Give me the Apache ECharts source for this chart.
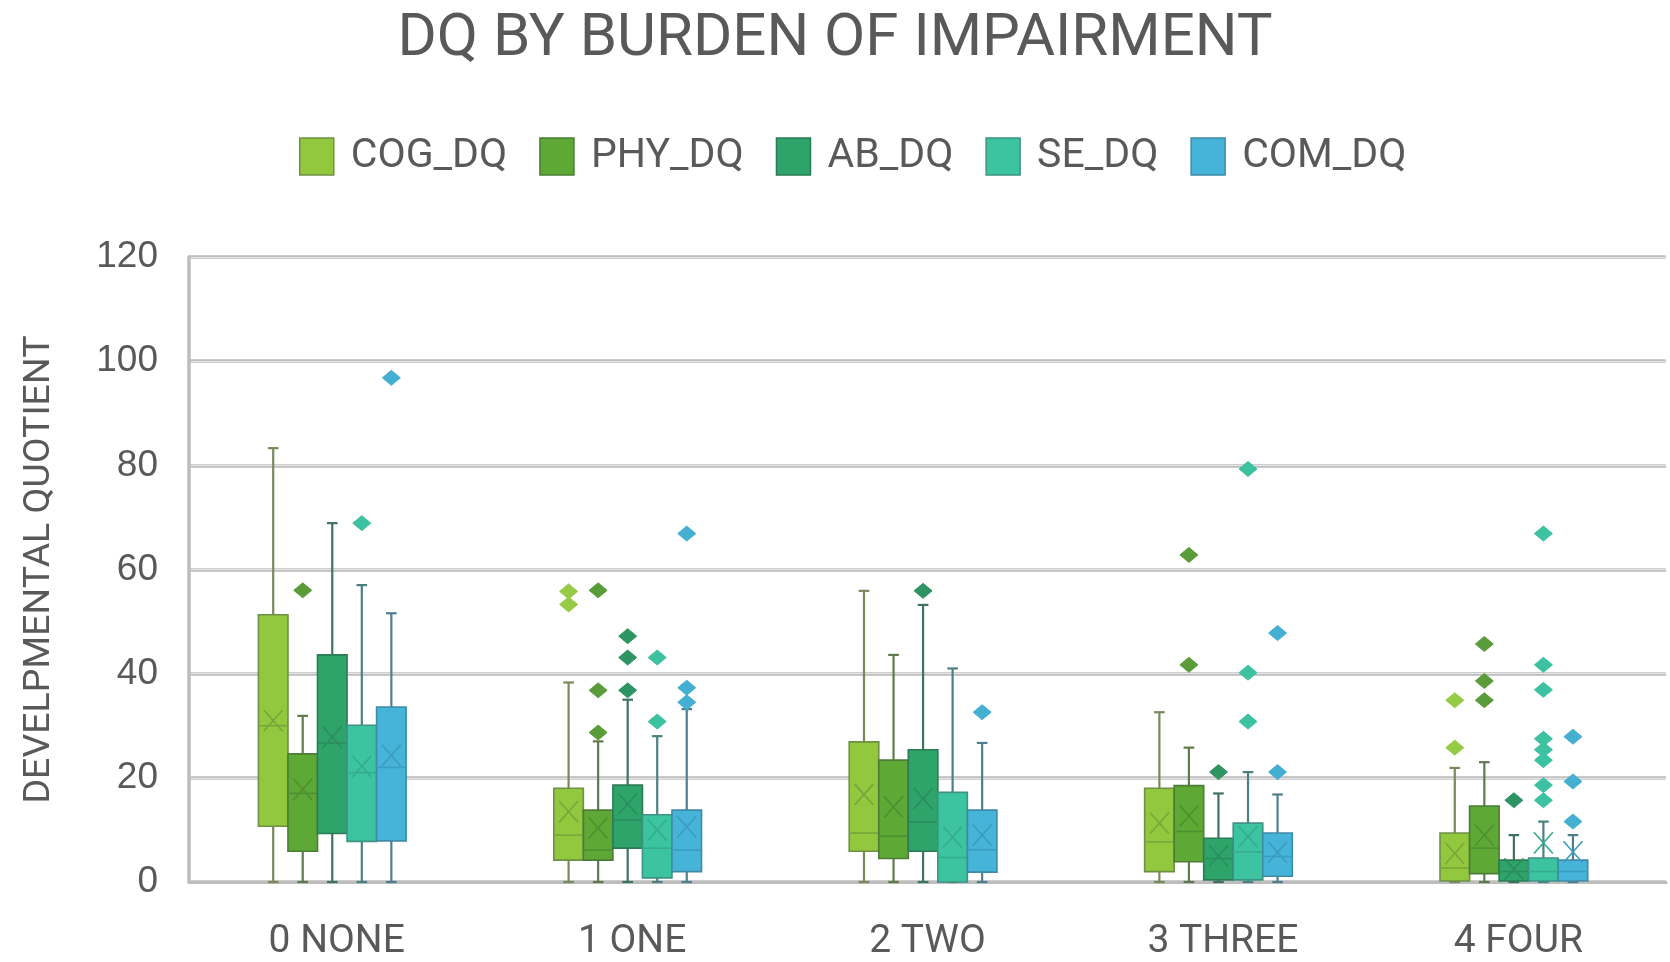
<!DOCTYPE html>
<html>
<head>
<meta charset="utf-8">
<script src="https://cdn.jsdelivr.net/npm/echarts/dist/echarts.min.js"></script>
<style>
html,body{margin:0;padding:0;background:#ffffff;}
#chart{width:1670px;height:962px;}
</style>
</head>
<body>
<div id="chart"></div>
<script>
// ---------------- DATA ----------------
const categories = ['0 NONE', '1 ONE', '2 TWO', '3 THREE', '4 FOUR'];
const seriesNames = ['COG_DQ', 'PHY_DQ', 'AB_DQ', 'SE_DQ', 'COM_DQ'];
const yTicks = [0, 20, 40, 60, 80, 100, 120];

// five-number summaries per category: [min, Q1, median, Q3, max]
const COG_box = [[0, 10.7, 30.0, 51.3, 83.3], [0, 4.2, 9.0, 18.0, 38.3], [0, 5.9, 9.4, 26.9, 55.9], [0, 2.0, 7.7, 18.0, 32.6], [0, 0.2, 2.7, 9.4, 21.9]];
const PHY_box = [[0, 5.9, 17.0, 24.6, 31.9], [0, 4.2, 6.1, 13.8, 27.0], [0, 4.5, 8.8, 23.4, 43.6], [0, 3.9, 9.7, 18.5, 25.8], [0, 1.6, 6.5, 14.6, 23.0]];
const AB_box  = [[0, 9.3, 26.7, 43.6, 68.9], [0, 6.5, 11.9, 18.6, 35.0], [0, 5.9, 11.5, 25.4, 53.2], [0, 0.4, 4.5, 8.4, 17.0], [0, 0.2, 2.0, 4.2, 9.0]];
const SE_box  = [[0, 7.8, 21.0, 30.1, 57.0], [0, 0.8, 6.5, 12.9, 28.0], [0, 0.0, 4.7, 17.2, 41.0], [0, 0.4, 5.8, 11.3, 21.1], [0, 0.2, 2.0, 4.6, 11.6]];
const COM_box = [[0, 7.9, 22.0, 33.6, 51.6], [0, 2.0, 6.1, 13.8, 33.2], [0, 1.9, 6.2, 13.8, 26.7], [0, 1.1, 4.9, 9.4, 16.8], [0, 0.2, 2.0, 4.2, 9.0]];

// means per category (the X markers)
const COG_mean = [31.0, 13.5, 16.8, 11.3, 5.5];
const PHY_mean = [17.8, 10.4, 14.4, 12.7, 9.0];
const AB_mean  = [27.8, 15.0, 16.0, 5.0, 2.5];
const SE_mean  = [22.2, 10.0, 8.6, 8.7, 7.5];
const COM_mean = [24.3, 10.6, 9.0, 5.7, 5.8];

// outliers per category
const COG_out = [[], [55.8, 53.3], [], [], [34.9, 25.8]];
const PHY_out = [[56.0], [56.0, 36.8, 28.7], [], [41.7, 62.8], [34.9, 38.6, 45.7]];
const AB_out  = [[], [36.8, 43.1, 47.2], [55.9], [21.1], [15.7]];
const SE_out  = [[68.9], [30.8, 43.1], [], [30.8, 40.2, 79.3], [15.7, 18.6, 23.4, 25.4, 27.5, 36.9, 41.7, 66.9]];
const COM_out = [[96.8], [34.5, 37.3, 66.9], [32.6], [21.1, 47.8], [11.6, 19.3, 27.9]];

// ---------------- STYLE ----------------
const STYLES = [
  {fill: '#92c83e', border: '#6f8f47', whisker: '#788a5c', line: '#78a63c', dot: '#97cb45'},
  {fill: '#5ea835', border: '#4c7c36', whisker: '#5f7a4c', line: '#4e9030', dot: '#5a9c3a'},
  {fill: '#2fa46a', border: '#2d7a56', whisker: '#3f7262', line: '#2a8e5c', dot: '#2f9463'},
  {fill: '#3cc4a0', border: '#3e9284', whisker: '#4d8080', line: '#35ac8c', dot: '#3cc2a0'},
  {fill: '#46b4d8', border: '#3f8ba6', whisker: '#4f7f8f', line: '#3a9cbe', dot: '#45afd2'}
];
const FONT = "Roboto, 'Liberation Sans', sans-serif";
const TEXT_COLOR = '#595959';
const GRID_COLOR = '#bdbdbd';
const BOX_FRAC = 0.1;
const GROUP_SHIFT = -0.015;

const boxes = [COG_box, PHY_box, AB_box, SE_box, COM_box];
const means = [COG_mean, PHY_mean, AB_mean, SE_mean, COM_mean];
const outs = [COG_out, PHY_out, AB_out, SE_out, COM_out];

function boxRender(si) {
  return function (params, api) {
    const ci = api.value(0);
    const band = api.size([1, 0])[0];
    const bw = band * BOX_FRAC;
    const cx = api.coord([ci, 0])[0] + (si - 2) * bw + GROUP_SHIFT * band;
    const Y = v => api.coord([ci, v])[1];
    const mn = Y(api.value(1)), q1 = Y(api.value(2)), md = Y(api.value(3)),
          q3 = Y(api.value(4)), mx = Y(api.value(5)), mean = Y(api.value(6));
    const st = STYLES[si];
    const capW = bw * 0.36;
    const ws = {stroke: st.whisker, lineWidth: 2.2};
    const xs = {stroke: st.line, lineWidth: 1.6};
    const hx = bw * 0.32, hy = bw * 0.36;
    return {
      type: 'group',
      children: [
        {type: 'line', shape: {x1: cx, y1: q3, x2: cx, y2: mx}, style: ws},
        {type: 'line', shape: {x1: cx, y1: q1, x2: cx, y2: mn}, style: ws},
        {type: 'line', shape: {x1: cx - capW / 2, y1: mx, x2: cx + capW / 2, y2: mx}, style: ws},
        {type: 'line', shape: {x1: cx - capW / 2, y1: mn, x2: cx + capW / 2, y2: mn}, style: ws},
        {type: 'rect', shape: {x: cx - bw / 2, y: q3, width: bw, height: q1 - q3},
          style: {fill: st.fill, stroke: st.border, lineWidth: 1.6}},
        {type: 'line', shape: {x1: cx - bw / 2, y1: md, x2: cx + bw / 2, y2: md}, style: xs},
        {type: 'line', shape: {x1: cx - hx, y1: mean - hy, x2: cx + hx, y2: mean + hy}, style: xs},
        {type: 'line', shape: {x1: cx - hx, y1: mean + hy, x2: cx + hx, y2: mean - hy}, style: xs}
      ]
    };
  };
}

function outRender(si) {
  return function (params, api) {
    const ci = api.value(0);
    const band = api.size([1, 0])[0];
    const bw = band * BOX_FRAC;
    const cx = api.coord([ci, 0])[0] + (si - 2) * bw + GROUP_SHIFT * band;
    const cy = api.coord([ci, api.value(1)])[1];
    const rx = 9, ry = 7.5;
    return {
      type: 'polygon',
      shape: {points: [[cx, cy - ry], [cx + rx, cy], [cx, cy + ry], [cx - rx, cy]]},
      style: {fill: STYLES[si].dot, stroke: STYLES[si].dot, lineWidth: 1}
    };
  };
}

const series = [];
seriesNames.forEach((name, si) => {
  series.push({
    name: name,
    type: 'custom',
    renderItem: boxRender(si),
    itemStyle: {color: STYLES[si].fill},
    encode: {x: 0, y: [1, 2, 3, 4, 5, 6]},
    data: boxes[si].map((b, ci) => [ci, b[0], b[1], b[2], b[3], b[4], means[si][ci]]),
    z: 2
  });
});
seriesNames.forEach((name, si) => {
  const pts = [];
  outs[si].forEach((arr, ci) => arr.forEach(v => pts.push([ci, v])));
  series.push({
    name: name,
    type: 'custom',
    renderItem: outRender(si),
    itemStyle: {color: STYLES[si].fill},
    encode: {x: 0, y: 1},
    data: pts,
    z: 3
  });
});

const chart = echarts.init(document.getElementById('chart'), null, {renderer: 'canvas'});
chart.setOption({
  animation: false,
  backgroundColor: '#ffffff',
  title: {
    text: 'DQ BY BURDEN OF IMPAIRMENT',
    left: 'center',
    top: 0,
    padding: [10, 0, 0, 8],
    textStyle: {fontFamily: FONT, fontSize: 60, fontWeight: 'normal', color: TEXT_COLOR}
  },
  legend: {
    top: 131,
    left: 294,
    itemWidth: 34,
    itemHeight: 37,
    itemGap: 32,
    icon: 'rect',
    textStyle: {fontFamily: FONT, fontSize: 41, color: TEXT_COLOR, padding: [0, 0, 0, 12]},
    data: seriesNames.map((n, i) => ({
      name: n,
      itemStyle: {color: STYLES[i].fill, borderColor: STYLES[i].border, borderWidth: 1.5}
    }))
  },
  grid: {left: 189, right: 4, top: 257, bottom: 80, containLabel: false},
  xAxis: {
    type: 'category',
    data: categories,
    boundaryGap: true,
    axisLine: {show: true, lineStyle: {color: GRID_COLOR, width: 3}},
    axisTick: {show: false},
    splitLine: {show: false},
    axisLabel: {fontFamily: FONT, fontSize: 39, color: TEXT_COLOR, margin: 41}
  },
  yAxis: [{
    type: 'value',
    min: 0,
    max: 120,
    interval: 20,
    name: 'DEVELPMENTAL QUOTIENT',
    nameLocation: 'middle',
    nameGap: 130,
    nameTextStyle: {fontFamily: FONT, fontSize: 37.5, color: TEXT_COLOR},
    axisLine: {show: true, lineStyle: {color: GRID_COLOR, width: 3.5}},
    axisTick: {show: false},
    splitLine: {show: true, lineStyle: {color: GRID_COLOR, width: 3.5}},
    axisLabel: {
      fontFamily: "'Liberation Sans', Arial, sans-serif",
      fontSize: 37,
      color: TEXT_COLOR,
      margin: 31,
      customValues: yTicks
    }
  }, {
    type: 'value',
    min: 0,
    max: 120,
    interval: 20,
    position: 'left',
    axisLine: {show: false},
    axisTick: {show: false},
    axisLabel: {show: false},
    splitLine: {show: true, lineStyle: {color: '#e8e8e8', width: 1}}
  }],
  series: series
});
</script>
</body>
</html>
